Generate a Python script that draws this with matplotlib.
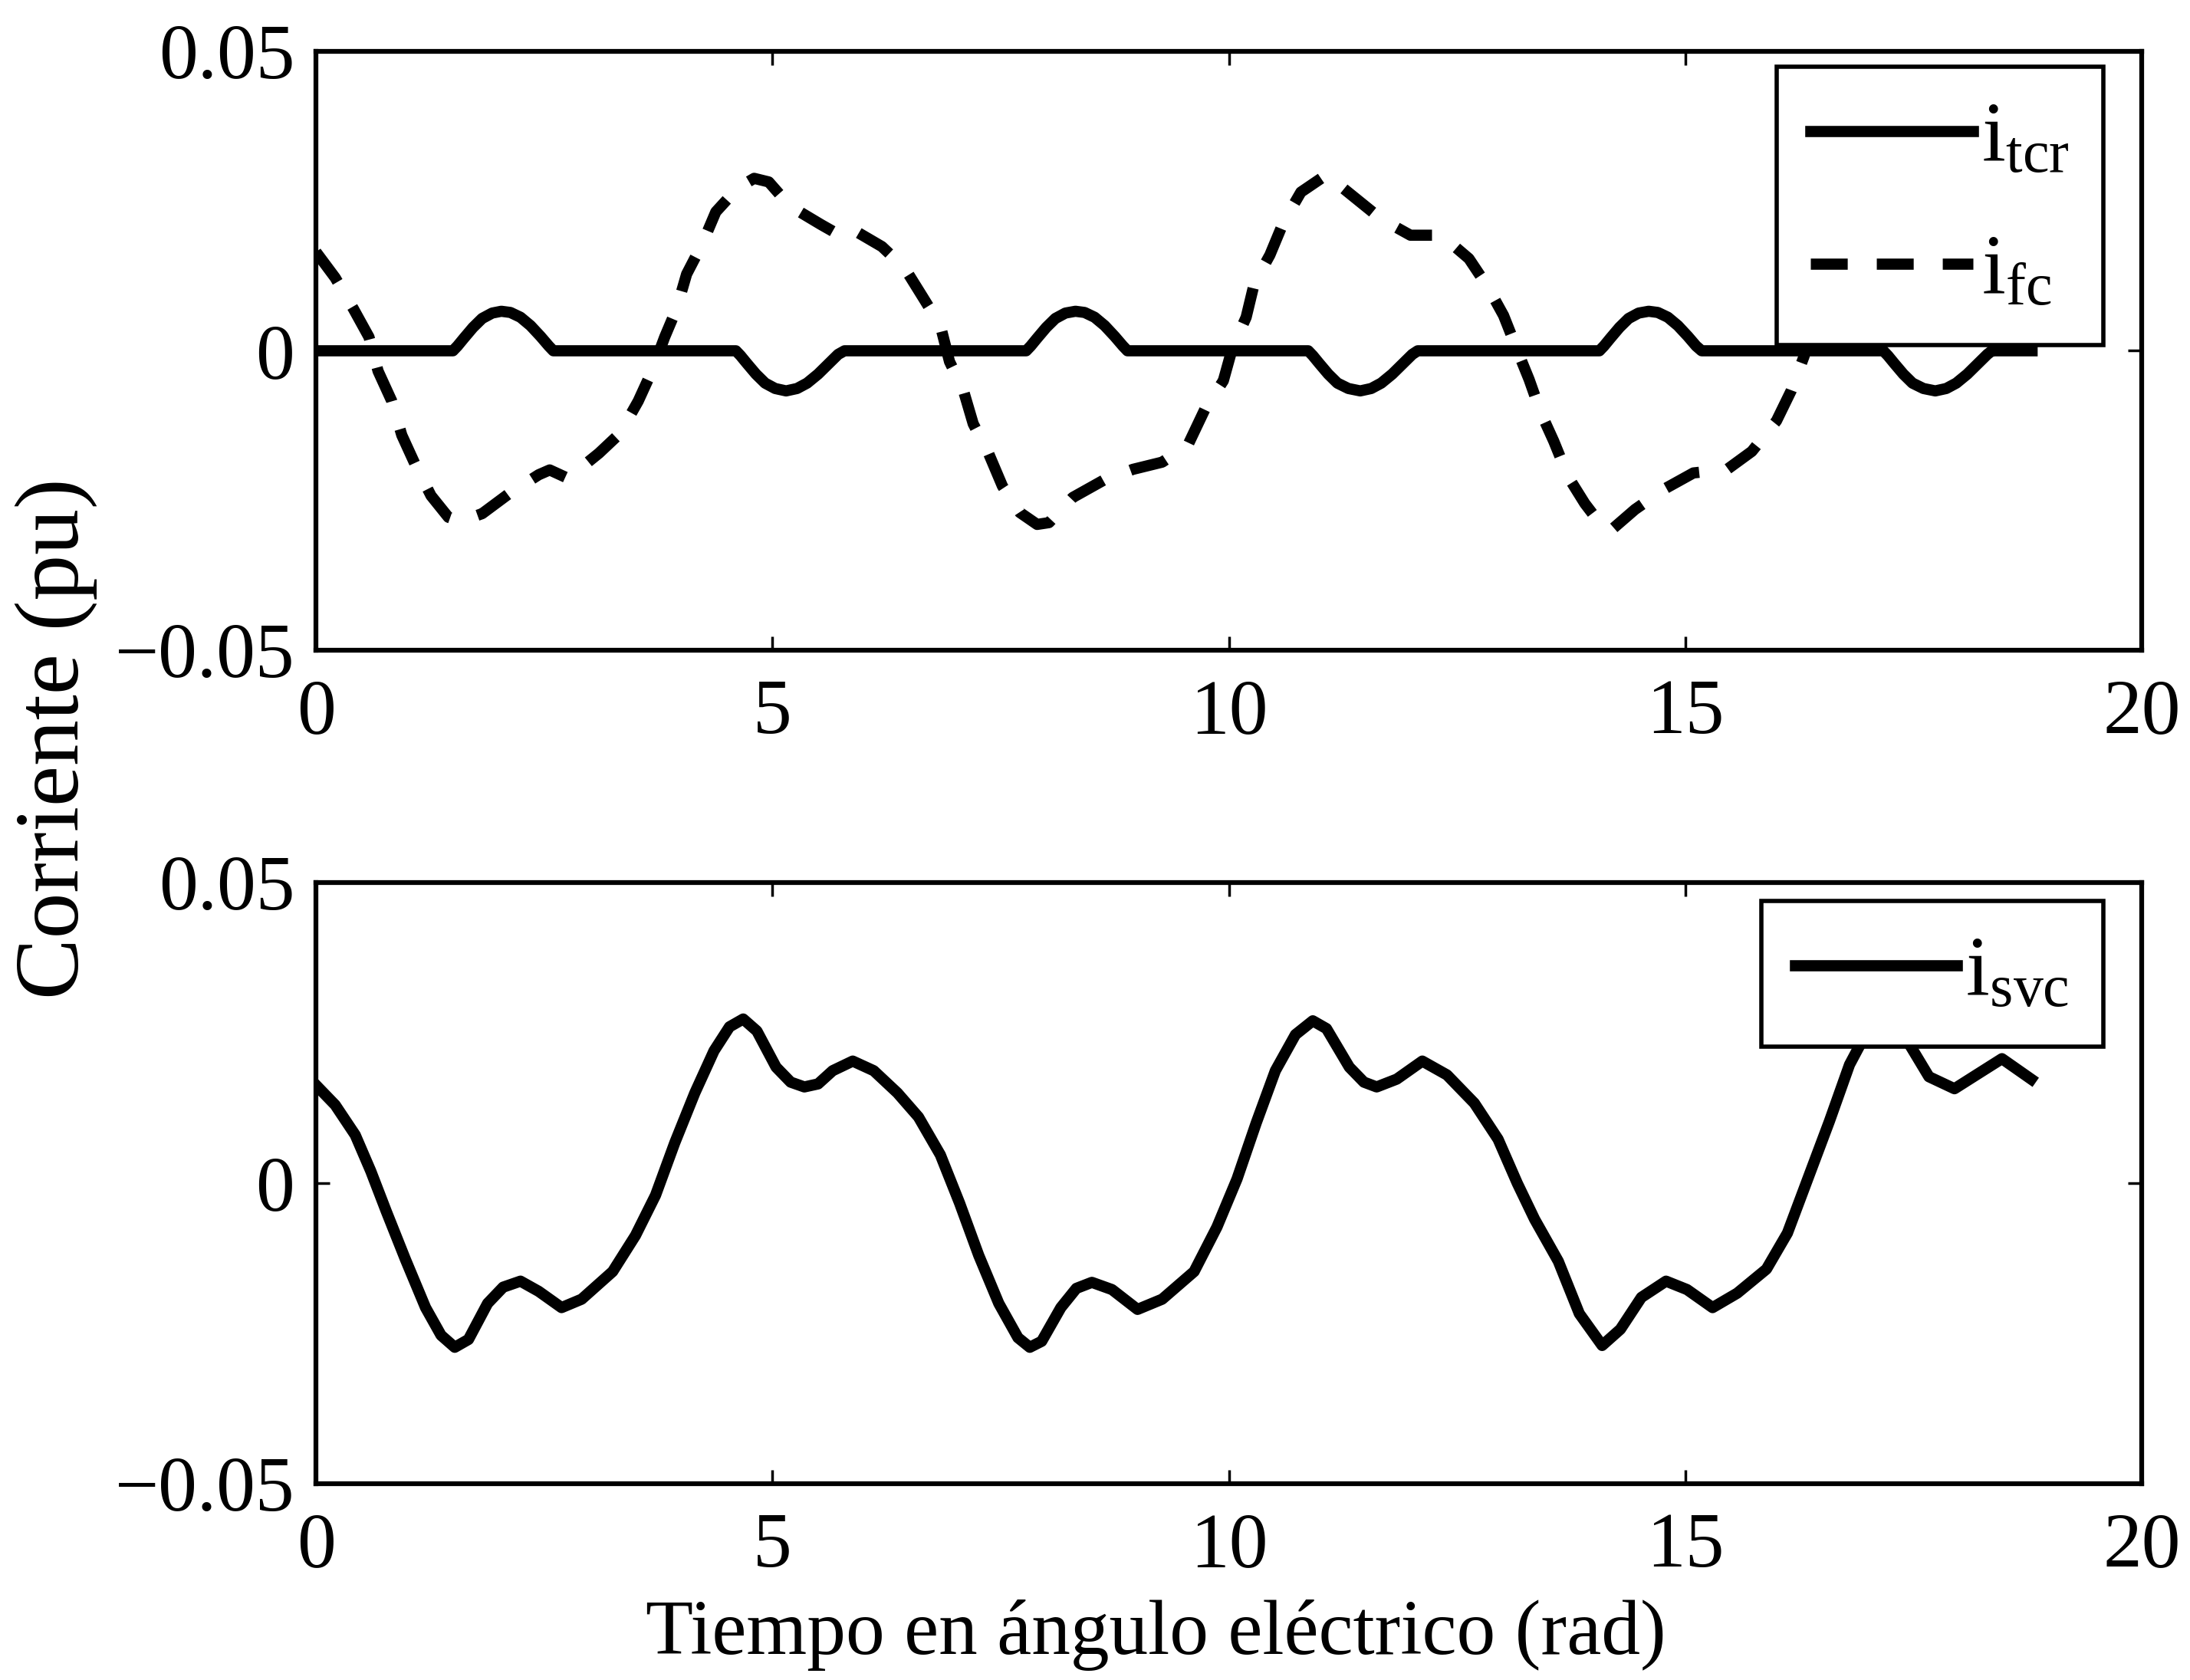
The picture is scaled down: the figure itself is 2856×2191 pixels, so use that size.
import matplotlib
matplotlib.use("Agg")
import matplotlib.pyplot as plt

x_tcr = [0.00, 1.50, 1.55, 1.62, 1.72, 1.82, 1.93, 2.03, 2.13, 2.24, 2.35, 2.46, 2.55, 2.60,
         4.60, 4.65, 4.72, 4.82, 4.92, 5.03, 5.15, 5.27, 5.38, 5.50, 5.62, 5.72, 5.79,
         7.78, 7.83, 7.90, 8.00, 8.10, 8.21, 8.32, 8.42, 8.53, 8.64, 8.75, 8.84, 8.89,
         10.87, 10.92, 10.99, 11.09, 11.19, 11.31, 11.44, 11.56, 11.67, 11.79, 11.91, 12.01, 12.07,
         14.06, 14.11, 14.18, 14.28, 14.38, 14.49, 14.60, 14.70, 14.81, 14.92, 15.03, 15.12, 15.18,
         17.17, 17.22, 17.29, 17.39, 17.49, 17.61, 17.74, 17.86, 17.97, 18.09, 18.21, 18.31, 18.36,
         18.80]
y_tcr = [0.0, 0.0, 0.0008, 0.0021, 0.0039, 0.0054, 0.0063, 0.0066, 0.0064, 0.0056, 0.0042, 0.0024, 0.0008, 0.0,
         0.0, -0.0008, -0.0021, -0.0039, -0.0054, -0.0063, -0.0067, -0.0063, -0.0054, -0.0039, -0.0021, -0.0006, 0.0,
         0.0, 0.0008, 0.0021, 0.0039, 0.0054, 0.0063, 0.0066, 0.0064, 0.0056, 0.0042, 0.0024, 0.0008, 0.0,
         0.0, -0.0008, -0.0021, -0.0039, -0.0054, -0.0063, -0.0067, -0.0063, -0.0054, -0.0039, -0.0021, -0.0006, 0.0,
         0.0, 0.0008, 0.0021, 0.0039, 0.0054, 0.0063, 0.0066, 0.0064, 0.0056, 0.0042, 0.0024, 0.0008, 0.0,
         0.0, -0.0008, -0.0021, -0.0039, -0.0054, -0.0063, -0.0067, -0.0063, -0.0054, -0.0039, -0.0021, -0.0006, 0.0,
         0.0]

x_fc = [0.00, 0.21, 0.41, 0.58, 0.68, 0.83, 0.94, 1.09, 1.26, 1.45, 1.58, 1.82, 2.12, 2.44, 2.56, 2.76,
        3.10, 3.33, 3.53, 3.68, 3.82, 3.95, 4.06, 4.23, 4.38, 4.62, 4.80, 4.96, 5.19, 5.53, 5.68, 5.83,
        6.20, 6.45, 6.65, 6.84, 6.94, 7.09, 7.20, 7.37, 7.52, 7.71, 7.90, 8.03, 8.29, 8.63, 8.95, 9.27,
        9.55, 9.74, 9.94, 10.04, 10.19, 10.28, 10.45, 10.60, 10.79, 11.07, 11.37, 11.67, 11.99, 12.33,
        12.63, 12.84, 13.01, 13.21, 13.29, 13.42, 13.56, 13.72, 13.90, 14.10, 14.20, 14.45, 14.77, 15.09,
        15.46, 15.73, 16.00, 16.16, 16.30, 16.45, 16.60, 16.80, 17.00, 17.20, 17.40, 17.65, 17.95, 18.15,
        18.35, 18.60, 18.85]
y_fc = [0.0165, 0.0122, 0.0070, 0.0023, -0.0034, -0.0084, -0.0141, -0.0191, -0.0242, -0.0278, -0.0285,
        -0.0272, -0.0238, -0.0207, -0.0199, -0.0213, -0.0171, -0.0138, -0.0084, -0.0034, 0.0023, 0.0070,
        0.0128, 0.0178, 0.0232, 0.0272, 0.0288, 0.0282, 0.0242, 0.0211, 0.0198, 0.0207, 0.0174, 0.0138,
        0.0089, 0.0042, -0.0018, -0.0065, -0.0122, -0.0172, -0.0226, -0.0270, -0.0290, -0.0287, -0.0245,
        -0.0216, -0.0198, -0.0186, -0.0158, -0.0097, -0.0050, 0.0005, 0.0056, 0.0113, 0.0160, 0.0215,
        0.0265, 0.0294, 0.0257, 0.0220, 0.0193, 0.0193, 0.0154, 0.0106, 0.0059, -0.0018, -0.0048, -0.0104,
        -0.0151, -0.0211, -0.0255, -0.0295, -0.0298, -0.0265, -0.0231, -0.0204, -0.0198, -0.0168, -0.0117,
        -0.0067, -0.0010, 0.0060, 0.0120, 0.0180, 0.0235, 0.0275, 0.0288, 0.0250, 0.0212, 0.0200, 0.0205,
        0.0185, 0.0165]

x_svc = [0.00, 0.21, 0.43, 0.60, 0.77, 0.98, 1.20, 1.37, 1.52, 1.67, 1.88, 2.05, 2.24, 2.44, 2.69, 2.91,
         3.25, 3.50, 3.72, 3.93, 4.15, 4.36, 4.53, 4.68, 4.83, 5.04, 5.20, 5.35, 5.50, 5.66, 5.88, 6.11,
         6.37, 6.60, 6.84, 7.05, 7.26, 7.48, 7.69, 7.82, 7.95, 8.16, 8.33, 8.50, 8.72, 9.00, 9.27, 9.62,
         9.87, 10.09, 10.30, 10.51, 10.73, 10.92, 11.07, 11.32, 11.48, 11.62, 11.84, 12.12, 12.39, 12.69,
         12.95, 13.16, 13.35, 13.61, 13.84, 14.09, 14.29, 14.52, 14.79, 15.02, 15.30, 15.57, 15.89, 16.12,
         16.35, 16.58, 16.80, 16.94, 17.10, 17.25, 17.44, 17.67, 17.95, 18.22, 18.47, 18.79]
y_svc = [0.0163, 0.0130, 0.0080, 0.0020, -0.0047, -0.0127, -0.0207, -0.0253, -0.0273, -0.0260, -0.0200,
         -0.0173, -0.0163, -0.0180, -0.0207, -0.0193, -0.0147, -0.0087, -0.0020, 0.0067, 0.0150, 0.0220,
         0.0260, 0.0273, 0.0253, 0.0193, 0.0168, 0.0160, 0.0165, 0.0187, 0.0203, 0.0187, 0.0150, 0.0110,
         0.0047, -0.0033, -0.0120, -0.0200, -0.0257, -0.0273, -0.0263, -0.0207, -0.0175, -0.0165, -0.0177,
         -0.0210, -0.0193, -0.0147, -0.0073, 0.0007, 0.0100, 0.0187, 0.0247, 0.0270, 0.0257, 0.0193, 0.0168,
         0.0160, 0.0173, 0.0203, 0.0180, 0.0133, 0.0073, 0.0000, -0.0060, -0.0130, -0.0217, -0.0270,
         -0.0243, -0.0190, -0.0163, -0.0177, -0.0207, -0.0183, -0.0143, -0.0083, 0.0010, 0.0103, 0.0197,
         0.0237, 0.0265, 0.0273, 0.0235, 0.0177, 0.0157, 0.0183, 0.0207, 0.0173]

x_ticks = [0, 5, 10, 15, 20]
y_ticks = [-0.05, 0, 0.05]
y_ticklabels = ["\u22120.05", "0", "0.05"]

plt.rcParams['font.family'] = ['Liberation Serif', 'DejaVu Serif']
plt.rcParams['mathtext.fontset'] = 'custom'
plt.rcParams['mathtext.rm'] = 'Liberation Serif'

FS = 73
LEG_FS = 80
LW = 10.5

fig = plt.figure(figsize=(28.56, 21.91), dpi=100)
ax1 = fig.add_axes([0.1443, 0.6130, 0.8336, 0.3564])
ax2 = fig.add_axes([0.1443, 0.1168, 0.8336, 0.3579])


def style_axes(ax):
    ax.set_xlim(0, 20)
    ax.set_ylim(-0.05, 0.05)
    ax.set_xticks(x_ticks)
    ax.set_xticklabels([str(t) for t in x_ticks])
    ax.set_yticks(y_ticks)
    ax.set_yticklabels(y_ticklabels)
    ax.tick_params(direction='in', top=True, right=True, length=13, width=2.5,
                   labelsize=FS)
    ax.tick_params(axis='x', pad=27)
    ax.tick_params(axis='y', pad=20)
    for s in ax.spines.values():
        s.set_linewidth(4.5)


ax1.plot(x_tcr, y_tcr, color='black', lw=LW, solid_joinstyle='round',
         label=r'$\mathregular{i_{tcr}}$')
ax1.plot(x_fc, y_fc, color='black', lw=LW, dashes=(3.3, 2.6),
         label=r'$\mathregular{i_{fc}}$')
style_axes(ax1)
leg1 = ax1.legend(loc='upper right', bbox_to_anchor=(0.979, 0.974), borderaxespad=0,
                  fontsize=LEG_FS, handlelength=1.9, handletextpad=0.1, labelspacing=0.65,
                  borderpad=0.4, fancybox=False, framealpha=1, edgecolor='black')
leg1.get_frame().set_linewidth(4)

ax2.plot(x_svc, y_svc, color='black', lw=LW, solid_joinstyle='round',
         label=r'$\mathregular{i_{svc}}$')
style_axes(ax2)
leg2 = ax2.legend(loc='upper right', bbox_to_anchor=(0.979, 0.969), borderaxespad=0,
                  fontsize=LEG_FS, handlelength=1.9, handletextpad=0.1,
                  borderpad=0.4, fancybox=False, framealpha=1, edgecolor='black')
leg2.get_frame().set_linewidth(4)

fig.text(0.0256, 0.5605, 'Corriente (pu)', rotation=90, ha='center', va='center',
         fontsize=86)
fig.text(0.5277, 0.0155, 'Tiempo en ángulo eléctrico (rad)', ha='center', va='baseline',
         fontsize=FS)

fig.savefig('out.png', dpi=100)
